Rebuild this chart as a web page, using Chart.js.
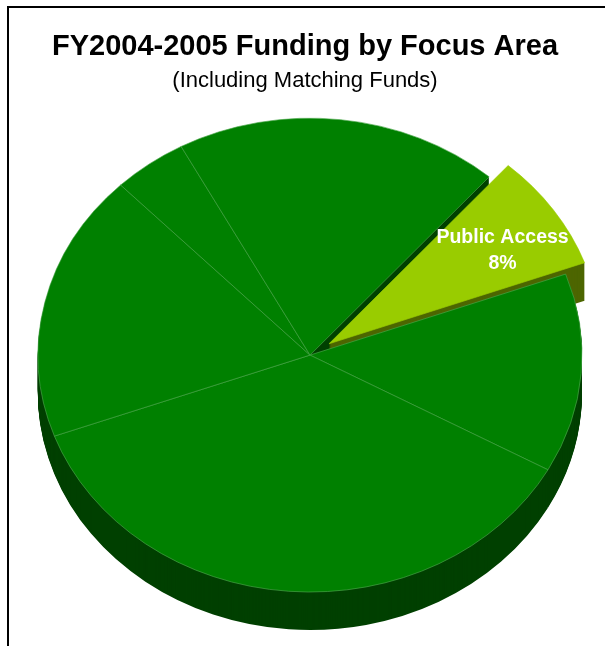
<!DOCTYPE html>
<html>
<head>
<meta charset="utf-8">
<title>FY2004-2005 Funding by Focus Area</title>
<script src="https://cdn.jsdelivr.net/npm/chart.js"></script>
<style>
  body { margin: 0; background: #fff; }
  #wrap { position: relative; width: 605px; height: 646px; overflow: hidden; }
  #frame { position: absolute; left: 7px; top: 6px; width: 700px; height: 700px;
           border-left: 2px solid #000; border-top: 2px solid #000; }
  #chart { position: absolute; left: 0; top: 0; }
</style>
</head>
<body>
<div id="wrap">
  <div id="frame"></div>
  <canvas id="chart" width="605" height="646"></canvas>
</div>
<script>
// focus areas, clockwise starting at Public Access
const areas = ['Public Access', 'Research', 'Education', 'Outreach', 'Administration', 'Infrastructure'];
const shares = [8, 13.6, 36.4, 18.3, 4.4, 19.3];
const labelled = ['Public Access'];

const faceColors = ['#99CC00', '#008000', '#008000', '#008000', '#008000', '#008000'];
const wallColors = ['#4D6600', '#004000', '#004000', '#004000', '#004000', '#004000'];
const edgeColors = ['#99CC00', '#4CA84C', '#4CA84C', '#4CA84C', '#4CA84C', '#4CA84C'];
const explode = [23, 0, 0, 0, 0, 0];   // px a slice is pulled out

const TILT = 0.871;   // vertical squash of the pie
const DEPTH = 38;     // thickness of the side wall in px
const NUDGE_X = 5;    // pie sits a little right of the title
const FONT = '"Liberation Sans", Arial, sans-serif';

// squash around the pie centre, pushed down by dy
function tilt(ctx, cy, dy) {
  ctx.translate(NUDGE_X, cy * (1 - TILT) + dy);
  ctx.scale(1, TILT);
}

function midAngle(arc) {
  return (arc.startAngle + arc.endAngle) / 2;
}

// draws the pie itself so walls, exploded slice and tilt can be handled
const pie3d = {
  id: 'pie3d',
  beforeDatasetsDraw(chart) {
    const ctx = chart.ctx;
    const arcs = chart.getDatasetMeta(0).data;
    const cy = arcs[0].y;

    const place = (arc, i, dy) => {
      tilt(ctx, cy, dy);
      const m = midAngle(arc);
      ctx.translate(Math.cos(m) * explode[i], Math.sin(m) * explode[i]);
    };

    // walls: stacked copies of every slice in the darker shade
    for (let d = DEPTH; d >= 1; d--) {
      arcs.forEach((arc, i) => {
        ctx.save();
        place(arc, i, d);
        const orig = arc.options;
        arc.options = Object.assign({}, orig, { backgroundColor: wallColors[i], borderWidth: 0 });
        arc.draw(ctx);
        arc.options = orig;
        ctx.restore();
      });
    }

    // top faces
    arcs.forEach((arc, i) => {
      ctx.save();
      place(arc, i, 0);
      arc.draw(ctx);
      ctx.restore();
    });

    // slice labels
    const total = shares.reduce((a, b) => a + b, 0);
    arcs.forEach((arc, i) => {
      if (!labelled.includes(areas[i])) return;
      const m = midAngle(arc);
      const dist = explode[i] + arc.outerRadius * 0.76;
      const x = arc.x + NUDGE_X + Math.cos(m) * dist;
      const y = cy + Math.sin(m) * dist * TILT;
      ctx.save();
      ctx.fillStyle = '#fff';
      ctx.font = 'bold 19.5px ' + FONT;
      ctx.textAlign = 'center';
      ctx.textBaseline = 'middle';
      ctx.fillText(areas[i], x + 3, y - 4);
      ctx.fillText(Math.round(shares[i] / total * 100) + '%', x + 3, y + 22);
      ctx.restore();
    });
    return false;
  }
};

new Chart(document.getElementById('chart'), {
  type: 'pie',
  data: {
    labels: areas,
    datasets: [{
      data: shares,
      backgroundColor: faceColors,
      borderColor: edgeColors,
      borderWidth: 0.7,
      radius: 272,
      clip: false
    }]
  },
  options: {
    responsive: false,
    animation: false,
    events: [],
    rotation: 41.2,
    layout: { padding: { left: 5, right: 0, top: 0, bottom: 30 } },
    plugins: {
      legend: { display: false },
      tooltip: { enabled: false },
      title: {
        display: true,
        text: 'FY2004-2005 Funding by Focus Area',
        color: '#000',
        font: { family: FONT, size: 29, weight: 'bold' },
        padding: { top: 30, bottom: 0 }
      },
      subtitle: {
        display: true,
        text: '(Including Matching Funds)',
        color: '#000',
        font: { family: FONT, size: 22, weight: 'normal' },
        padding: { top: 3, bottom: 0 }
      }
    }
  },
  plugins: [pie3d]
});
</script>
</body>
</html>
